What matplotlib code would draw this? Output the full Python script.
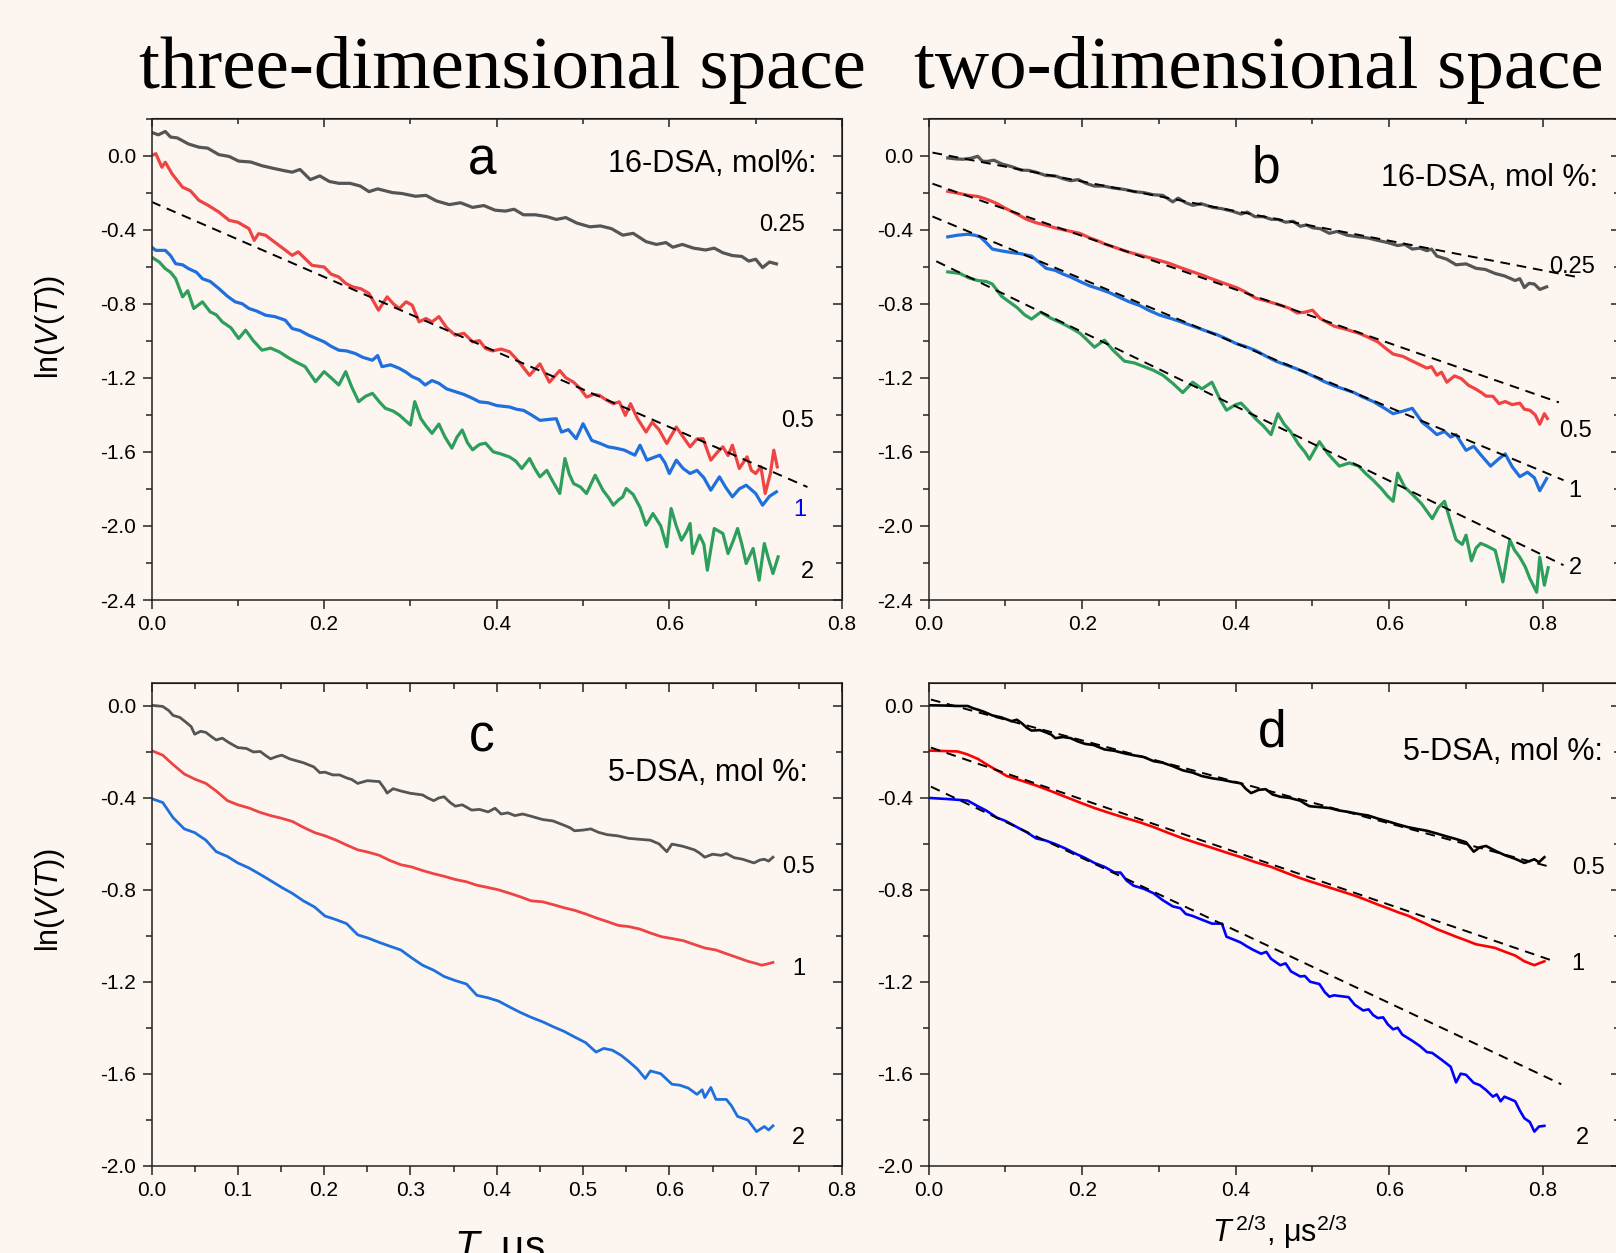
import matplotlib
matplotlib.use('Agg')
import matplotlib.pyplot as plt
from matplotlib.ticker import MultipleLocator
from matplotlib import font_manager

# fonts
names = set(f.name for f in font_manager.fontManager.ttflist)
narrow = 'Liberation Sans Narrow' if 'Liberation Sans Narrow' in names else 'Liberation Sans'
plt.rcParams['font.family'] = ['Liberation Sans', 'DejaVu Sans']
plt.rcParams['mathtext.fontset'] = 'custom'
plt.rcParams['mathtext.rm'] = 'Liberation Sans'
plt.rcParams['mathtext.it'] = 'Liberation Sans:italic'

BG = '#fdf6f0'

# ---------------- data ----------------
# panel a : 16-DSA, ln V(T) vs T
a_025_x = [0.000, 0.008, 0.016, 0.022, 0.030, 0.043, 0.055, 0.065, 0.078, 0.090, 0.101, 0.115, 0.128, 0.140,
           0.152, 0.163, 0.172, 0.184, 0.195, 0.206, 0.217, 0.230, 0.242, 0.252, 0.262, 0.279, 0.290, 0.306,
           0.318, 0.330, 0.345, 0.358, 0.372, 0.385, 0.398, 0.410, 0.420, 0.431, 0.445, 0.458, 0.469, 0.480,
           0.493, 0.508, 0.520, 0.533, 0.546, 0.558, 0.573, 0.585, 0.596, 0.604, 0.615, 0.628, 0.642, 0.652,
           0.662, 0.673, 0.684, 0.692, 0.700, 0.708, 0.716, 0.724]
a_025_y = [0.125, 0.112, 0.130, 0.100, 0.095, 0.062, 0.045, 0.040, 0.005, -0.005, -0.030, -0.035, -0.055, -0.068,
           -0.080, -0.090, -0.075, -0.130, -0.110, -0.140, -0.150, -0.150, -0.165, -0.195, -0.180, -0.200, -0.205, -0.220,
           -0.215, -0.245, -0.265, -0.255, -0.280, -0.270, -0.295, -0.300, -0.290, -0.320, -0.320, -0.330, -0.345, -0.335,
           -0.365, -0.385, -0.380, -0.395, -0.430, -0.420, -0.465, -0.480, -0.470, -0.495, -0.480, -0.500, -0.510, -0.500,
           -0.525, -0.540, -0.545, -0.570, -0.560, -0.605, -0.575, -0.585]

a_05_x = [0.000, 0.005, 0.012, 0.016, 0.024, 0.036, 0.045, 0.055, 0.066, 0.078, 0.090, 0.100, 0.113, 0.119, 0.124,
          0.132, 0.140, 0.152, 0.163, 0.170, 0.178, 0.186, 0.200, 0.208, 0.217, 0.225, 0.233, 0.243, 0.252, 0.263,
          0.273, 0.280, 0.287, 0.295, 0.302, 0.310, 0.318, 0.325, 0.333, 0.342, 0.352, 0.362, 0.372, 0.380, 0.387,
          0.395, 0.405, 0.415, 0.425, 0.438, 0.450, 0.461, 0.473, 0.480, 0.489, 0.497, 0.504, 0.512, 0.519, 0.527,
          0.535, 0.542, 0.549, 0.555, 0.563, 0.573, 0.580, 0.588, 0.597, 0.608, 0.616, 0.624, 0.632, 0.639, 0.648,
          0.656, 0.662, 0.668, 0.673, 0.681, 0.690, 0.695, 0.700, 0.706, 0.711, 0.717, 0.721, 0.725]
a_05_y = [0.000, 0.010, -0.063, -0.036, -0.100, -0.171, -0.190, -0.242, -0.270, -0.305, -0.350, -0.360, -0.395, -0.458, -0.422,
          -0.430, -0.458, -0.500, -0.539, -0.520, -0.557, -0.593, -0.602, -0.640, -0.656, -0.690, -0.709, -0.720, -0.745, -0.835,
          -0.763, -0.800, -0.826, -0.790, -0.808, -0.898, -0.880, -0.898, -0.870, -0.930, -0.970, -0.960, -1.006, -1.000, -1.042,
          -1.055, -1.045, -1.060, -1.110, -1.187, -1.125, -1.224, -1.161, -1.200, -1.224, -1.260, -1.304, -1.290, -1.295, -1.320,
          -1.340, -1.330, -1.403, -1.340, -1.420, -1.493, -1.440, -1.480, -1.555, -1.466, -1.520, -1.573, -1.530, -1.529, -1.645,
          -1.600, -1.573, -1.620, -1.564, -1.690, -1.627, -1.700, -1.717, -1.680, -1.825, -1.717, -1.591, -1.681]

a_1_x = [0.000, 0.005, 0.016, 0.022, 0.028, 0.036, 0.043, 0.052, 0.059, 0.068, 0.078, 0.088, 0.097, 0.105, 0.113,
         0.122, 0.132, 0.143, 0.155, 0.163, 0.172, 0.182, 0.192, 0.200, 0.208, 0.217, 0.226, 0.236, 0.245, 0.256,
         0.262, 0.267, 0.277, 0.287, 0.295, 0.302, 0.310, 0.317, 0.325, 0.333, 0.342, 0.352, 0.362, 0.372, 0.380,
         0.390, 0.400, 0.415, 0.423, 0.431, 0.440, 0.450, 0.460, 0.469, 0.475, 0.483, 0.492, 0.500, 0.510, 0.520,
         0.529, 0.538, 0.548, 0.560, 0.566, 0.574, 0.582, 0.589, 0.595, 0.600, 0.608, 0.616, 0.624, 0.632, 0.640,
         0.648, 0.658, 0.665, 0.673, 0.681, 0.689, 0.700, 0.708, 0.716, 0.724]
a_1_y = [-0.494, -0.512, -0.512, -0.540, -0.584, -0.590, -0.611, -0.630, -0.665, -0.680, -0.718, -0.760, -0.790, -0.800, -0.826,
         -0.840, -0.862, -0.870, -0.889, -0.934, -0.945, -0.970, -0.990, -1.006, -1.030, -1.051, -1.055, -1.069, -1.090, -1.105,
         -1.080, -1.140, -1.130, -1.149, -1.170, -1.194, -1.210, -1.239, -1.215, -1.230, -1.260, -1.275, -1.290, -1.311, -1.330,
         -1.335, -1.350, -1.358, -1.370, -1.376, -1.400, -1.430, -1.425, -1.421, -1.493, -1.480, -1.529, -1.448, -1.538, -1.555,
         -1.573, -1.580, -1.591, -1.618, -1.564, -1.645, -1.630, -1.618, -1.660, -1.717, -1.645, -1.690, -1.717, -1.700, -1.740,
         -1.807, -1.735, -1.790, -1.843, -1.800, -1.780, -1.825, -1.888, -1.840, -1.816]

a_2_x = [0.000, 0.009, 0.016, 0.022, 0.028, 0.036, 0.042, 0.049, 0.059, 0.068, 0.075, 0.082, 0.092, 0.101, 0.109,
         0.118, 0.128, 0.138, 0.148, 0.158, 0.167, 0.178, 0.190, 0.200, 0.208, 0.217, 0.225, 0.232, 0.240, 0.248,
         0.256, 0.264, 0.271, 0.280, 0.287, 0.294, 0.300, 0.305, 0.312, 0.318, 0.325, 0.333, 0.340, 0.348, 0.354,
         0.360, 0.366, 0.372, 0.380, 0.387, 0.396, 0.404, 0.415, 0.422, 0.429, 0.438, 0.444, 0.450, 0.458, 0.465,
         0.473, 0.479, 0.484, 0.489, 0.497, 0.504, 0.514, 0.523, 0.530, 0.535, 0.541, 0.546, 0.550, 0.558, 0.566,
         0.573, 0.581, 0.590, 0.597, 0.602, 0.608, 0.614, 0.620, 0.624, 0.627, 0.635, 0.640, 0.644, 0.652, 0.662,
         0.668, 0.674, 0.679, 0.684, 0.689, 0.697, 0.704, 0.710, 0.715, 0.720, 0.726]
a_2_y = [-0.548, -0.575, -0.611, -0.630, -0.665, -0.763, -0.730, -0.826, -0.790, -0.844, -0.860, -0.898, -0.930, -0.988, -0.943,
         -1.000, -1.051, -1.040, -1.060, -1.090, -1.114, -1.140, -1.221, -1.167, -1.200, -1.239, -1.167, -1.250, -1.329, -1.300,
         -1.284, -1.330, -1.365, -1.380, -1.401, -1.430, -1.455, -1.329, -1.420, -1.460, -1.500, -1.450, -1.520, -1.580, -1.520,
         -1.482, -1.550, -1.589, -1.560, -1.553, -1.600, -1.610, -1.628, -1.650, -1.690, -1.636, -1.690, -1.735, -1.700, -1.760,
         -1.825, -1.636, -1.720, -1.771, -1.790, -1.825, -1.726, -1.807, -1.850, -1.888, -1.860, -1.843, -1.798, -1.830, -1.900,
         -1.996, -1.933, -2.000, -2.113, -1.906, -2.000, -2.077, -2.030, -1.987, -2.149, -2.050, -2.100, -2.239, -2.014, -2.041,
         -2.149, -2.080, -2.014, -2.100, -2.203, -2.122, -2.293, -2.095, -2.180, -2.257, -2.167]

a_fit_x = [0.0, 0.76]
a_fit_y = [-0.25, -1.79]

# panel b : 16-DSA, ln V(T) vs T^(2/3)
b_025_x = [0.025, 0.035, 0.045, 0.055, 0.064, 0.070, 0.076, 0.085, 0.095, 0.108, 0.121, 0.130, 0.140, 0.153, 0.165,
           0.175, 0.185, 0.195, 0.205, 0.216, 0.228, 0.240, 0.255, 0.268, 0.280, 0.293, 0.305, 0.318, 0.325, 0.335,
           0.344, 0.355, 0.370, 0.382, 0.395, 0.407, 0.415, 0.425, 0.436, 0.446, 0.455, 0.465, 0.475, 0.484, 0.492,
           0.500, 0.510, 0.522, 0.532, 0.545, 0.560, 0.572, 0.585, 0.598, 0.611, 0.620, 0.630, 0.640, 0.649, 0.655,
           0.662, 0.675, 0.687, 0.700, 0.713, 0.725, 0.738, 0.750, 0.764, 0.770, 0.776, 0.782, 0.789, 0.796, 0.805]
b_025_y = [-0.013, -0.018, -0.020, -0.015, -0.004, -0.030, -0.032, -0.025, -0.045, -0.060, -0.079, -0.080, -0.090, -0.108, -0.110,
           -0.125, -0.136, -0.130, -0.150, -0.165, -0.165, -0.175, -0.183, -0.195, -0.200, -0.212, -0.215, -0.250, -0.230, -0.255,
           -0.269, -0.260, -0.280, -0.287, -0.300, -0.316, -0.305, -0.330, -0.330, -0.344, -0.345, -0.360, -0.355, -0.382, -0.375,
           -0.390, -0.395, -0.420, -0.410, -0.430, -0.439, -0.445, -0.458, -0.470, -0.486, -0.480, -0.505, -0.500, -0.514, -0.505,
           -0.543, -0.560, -0.590, -0.585, -0.609, -0.615, -0.637, -0.650, -0.675, -0.665, -0.713, -0.690, -0.694, -0.723, -0.709]

b_05_x = [0.025, 0.040, 0.052, 0.064, 0.075, 0.089, 0.100, 0.115, 0.128, 0.140, 0.152, 0.165, 0.180, 0.197, 0.210,
          0.220, 0.229, 0.242, 0.255, 0.268, 0.280, 0.295, 0.312, 0.328, 0.344, 0.356, 0.369, 0.385, 0.401, 0.412,
          0.426, 0.440, 0.458, 0.470, 0.480, 0.490, 0.500, 0.510, 0.528, 0.545, 0.560, 0.572, 0.585, 0.595, 0.605,
          0.618, 0.630, 0.640, 0.649, 0.655, 0.662, 0.668, 0.675, 0.685, 0.694, 0.703, 0.713, 0.720, 0.726, 0.735,
          0.743, 0.751, 0.760, 0.770, 0.776, 0.783, 0.790, 0.796, 0.802, 0.806]
b_05_y = [-0.193, -0.205, -0.215, -0.221, -0.235, -0.259, -0.285, -0.316, -0.345, -0.363, -0.375, -0.391, -0.405, -0.420, -0.445,
          -0.460, -0.477, -0.495, -0.514, -0.530, -0.543, -0.560, -0.580, -0.605, -0.628, -0.645, -0.666, -0.690, -0.713, -0.735,
          -0.770, -0.785, -0.808, -0.825, -0.850, -0.846, -0.835, -0.880, -0.921, -0.940, -0.959, -0.980, -1.006, -1.040, -1.072,
          -1.085, -1.110, -1.130, -1.148, -1.140, -1.186, -1.170, -1.224, -1.190, -1.205, -1.240, -1.262, -1.280, -1.299, -1.300,
          -1.340, -1.328, -1.345, -1.337, -1.370, -1.375, -1.400, -1.451, -1.394, -1.420]

b_1_x = [0.025, 0.038, 0.051, 0.060, 0.067, 0.075, 0.083, 0.095, 0.108, 0.120, 0.134, 0.145, 0.153, 0.165, 0.175,
         0.185, 0.197, 0.210, 0.222, 0.236, 0.248, 0.261, 0.275, 0.287, 0.300, 0.318, 0.330, 0.344, 0.360, 0.376,
         0.388, 0.401, 0.412, 0.426, 0.438, 0.452, 0.465, 0.477, 0.490, 0.503, 0.515, 0.528, 0.540, 0.554, 0.566,
         0.579, 0.592, 0.605, 0.618, 0.630, 0.643, 0.652, 0.662, 0.672, 0.680, 0.687, 0.700, 0.710, 0.720, 0.732,
         0.742, 0.751, 0.760, 0.770, 0.780, 0.789, 0.796, 0.805]
b_1_y = [-0.439, -0.430, -0.425, -0.430, -0.439, -0.470, -0.505, -0.515, -0.524, -0.530, -0.543, -0.580, -0.609, -0.620, -0.640,
         -0.656, -0.680, -0.704, -0.720, -0.741, -0.765, -0.789, -0.810, -0.836, -0.860, -0.883, -0.900, -0.921, -0.945, -0.968,
         -0.990, -1.016, -1.030, -1.053, -1.080, -1.110, -1.130, -1.148, -1.170, -1.195, -1.220, -1.243, -1.260, -1.280, -1.305,
         -1.328, -1.360, -1.394, -1.380, -1.365, -1.441, -1.470, -1.507, -1.490, -1.520, -1.507, -1.592, -1.570, -1.620, -1.677,
         -1.640, -1.611, -1.680, -1.734, -1.710, -1.740, -1.810, -1.744]

b_2_x = [0.025, 0.041, 0.052, 0.064, 0.075, 0.083, 0.095, 0.105, 0.115, 0.125, 0.134, 0.146, 0.160, 0.172, 0.185,
         0.197, 0.205, 0.216, 0.229, 0.240, 0.255, 0.268, 0.280, 0.293, 0.305, 0.318, 0.331, 0.344, 0.356, 0.369,
         0.380, 0.388, 0.400, 0.407, 0.417, 0.426, 0.436, 0.446, 0.455, 0.463, 0.471, 0.482, 0.490, 0.496, 0.509,
         0.520, 0.535, 0.548, 0.560, 0.570, 0.579, 0.590, 0.598, 0.605, 0.611, 0.620, 0.630, 0.642, 0.656, 0.664,
         0.672, 0.680, 0.687, 0.695, 0.700, 0.707, 0.713, 0.719, 0.728, 0.738, 0.748, 0.757, 0.763, 0.770, 0.777,
         0.783, 0.792, 0.796, 0.802, 0.807]
b_2_y = [-0.628, -0.637, -0.660, -0.675, -0.680, -0.694, -0.760, -0.790, -0.820, -0.860, -0.883, -0.846, -0.880, -0.902, -0.930,
         -0.959, -0.990, -1.035, -0.997, -1.050, -1.110, -1.120, -1.139, -1.160, -1.186, -1.230, -1.280, -1.224, -1.260, -1.224,
         -1.320, -1.375, -1.345, -1.337, -1.380, -1.422, -1.460, -1.507, -1.394, -1.450, -1.488, -1.560, -1.600, -1.640, -1.545,
         -1.610, -1.677, -1.660, -1.677, -1.720, -1.753, -1.800, -1.840, -1.867, -1.715, -1.790, -1.829, -1.880, -1.961, -1.900,
         -1.867, -1.980, -2.075, -2.100, -2.050, -2.188, -2.120, -2.094, -2.110, -2.132, -2.302, -2.075, -2.130, -2.169, -2.220,
         -2.283, -2.358, -2.169, -2.320, -2.226]

b_fit_x = [[0.005, 0.846], [0.005, 0.821], [0.005, 0.827], [0.010, 0.827]]
b_fit_y = [[0.016, -0.657], [-0.152, -1.333], [-0.329, -1.753], [-0.571, -2.212]]

# panel c : 5-DSA, ln V(T) vs T
c_05_x = [0.000, 0.013, 0.020, 0.025, 0.033, 0.041, 0.046, 0.050, 0.057, 0.063, 0.070, 0.075, 0.082, 0.090, 0.100,
          0.110, 0.118, 0.126, 0.132, 0.138, 0.145, 0.151, 0.160, 0.176, 0.188, 0.195, 0.201, 0.210, 0.218, 0.226,
          0.232, 0.239, 0.250, 0.264, 0.270, 0.273, 0.280, 0.289, 0.300, 0.314, 0.320, 0.327, 0.333, 0.339, 0.346,
          0.352, 0.360, 0.371, 0.380, 0.390, 0.398, 0.405, 0.413, 0.421, 0.430, 0.440, 0.453, 0.465, 0.478, 0.485,
          0.490, 0.500, 0.509, 0.518, 0.528, 0.540, 0.553, 0.565, 0.578, 0.588, 0.597, 0.603, 0.615, 0.629, 0.635,
          0.641, 0.650, 0.660, 0.666, 0.675, 0.685, 0.698, 0.705, 0.710, 0.715, 0.720]
c_05_y = [0.003, -0.002, -0.020, -0.041, -0.050, -0.074, -0.090, -0.123, -0.110, -0.115, -0.135, -0.148, -0.140, -0.160, -0.181,
          -0.185, -0.200, -0.198, -0.215, -0.230, -0.220, -0.214, -0.230, -0.247, -0.265, -0.290, -0.288, -0.300, -0.300, -0.313,
          -0.320, -0.337, -0.325, -0.329, -0.360, -0.379, -0.360, -0.370, -0.380, -0.387, -0.400, -0.412, -0.400, -0.395, -0.420,
          -0.436, -0.430, -0.453, -0.450, -0.461, -0.445, -0.470, -0.465, -0.477, -0.470, -0.480, -0.494, -0.500, -0.519, -0.530,
          -0.543, -0.540, -0.535, -0.550, -0.560, -0.565, -0.576, -0.580, -0.584, -0.600, -0.634, -0.601, -0.610, -0.626, -0.640,
          -0.658, -0.645, -0.650, -0.642, -0.660, -0.667, -0.683, -0.670, -0.667, -0.675, -0.658]

c_1_x = [0.000, 0.013, 0.025, 0.038, 0.050, 0.063, 0.075, 0.088, 0.100, 0.113, 0.125, 0.138, 0.150, 0.163, 0.176,
         0.189, 0.201, 0.214, 0.226, 0.239, 0.251, 0.264, 0.276, 0.289, 0.301, 0.314, 0.327, 0.339, 0.352, 0.365,
         0.377, 0.390, 0.402, 0.415, 0.427, 0.440, 0.453, 0.465, 0.478, 0.490, 0.503, 0.515, 0.528, 0.541, 0.553,
         0.566, 0.578, 0.591, 0.603, 0.616, 0.629, 0.641, 0.654, 0.666, 0.679, 0.691, 0.700, 0.707, 0.714, 0.720]
c_1_y = [-0.194, -0.214, -0.255, -0.296, -0.318, -0.337, -0.370, -0.412, -0.430, -0.444, -0.462, -0.477, -0.488, -0.502, -0.528,
         -0.551, -0.565, -0.584, -0.605, -0.626, -0.636, -0.650, -0.672, -0.691, -0.700, -0.716, -0.730, -0.741, -0.755, -0.765,
         -0.780, -0.790, -0.800, -0.815, -0.830, -0.848, -0.852, -0.864, -0.878, -0.889, -0.905, -0.922, -0.938, -0.955, -0.960,
         -0.971, -0.988, -1.004, -1.012, -1.021, -1.038, -1.053, -1.062, -1.078, -1.095, -1.111, -1.120, -1.128, -1.122, -1.116]

c_2_x = [0.000, 0.013, 0.025, 0.038, 0.050, 0.063, 0.075, 0.088, 0.100, 0.113, 0.126, 0.138, 0.151, 0.163, 0.176,
         0.189, 0.201, 0.214, 0.226, 0.239, 0.251, 0.264, 0.276, 0.289, 0.301, 0.314, 0.327, 0.339, 0.352, 0.365,
         0.377, 0.390, 0.402, 0.415, 0.427, 0.440, 0.453, 0.465, 0.478, 0.490, 0.503, 0.515, 0.524, 0.534, 0.544,
         0.553, 0.563, 0.572, 0.578, 0.590, 0.603, 0.612, 0.622, 0.632, 0.638, 0.641, 0.648, 0.654, 0.666, 0.672,
         0.679, 0.691, 0.701, 0.710, 0.715, 0.720]
c_2_y = [-0.403, -0.420, -0.486, -0.535, -0.551, -0.584, -0.634, -0.655, -0.683, -0.705, -0.733, -0.760, -0.790, -0.815, -0.848,
         -0.875, -0.914, -0.930, -0.947, -0.996, -1.010, -1.029, -1.045, -1.062, -1.095, -1.128, -1.150, -1.177, -1.195, -1.210,
         -1.259, -1.270, -1.284, -1.310, -1.333, -1.355, -1.374, -1.395, -1.416, -1.440, -1.465, -1.506, -1.490, -1.498, -1.520,
         -1.547, -1.580, -1.621, -1.588, -1.600, -1.646, -1.650, -1.663, -1.690, -1.670, -1.704, -1.660, -1.712, -1.712, -1.740,
         -1.786, -1.802, -1.852, -1.830, -1.845, -1.827]

# panel d : 5-DSA, ln V(T) vs T^(2/3)
d_05_x = [0.000, 0.020, 0.038, 0.051, 0.058, 0.064, 0.072, 0.083, 0.095, 0.108, 0.115, 0.121, 0.128, 0.134, 0.145,
          0.153, 0.160, 0.165, 0.175, 0.185, 0.195, 0.204, 0.215, 0.229, 0.242, 0.255, 0.268, 0.280, 0.293, 0.305,
          0.318, 0.331, 0.344, 0.356, 0.370, 0.382, 0.395, 0.407, 0.413, 0.420, 0.430, 0.439, 0.448, 0.458, 0.470,
          0.484, 0.490, 0.496, 0.509, 0.522, 0.535, 0.547, 0.560, 0.573, 0.585, 0.598, 0.611, 0.624, 0.636, 0.649,
          0.662, 0.675, 0.688, 0.700, 0.710, 0.718, 0.726, 0.738, 0.751, 0.764, 0.776, 0.789, 0.795, 0.802]
d_05_y = [0.003, 0.002, 0.000, 0.000, -0.010, -0.016, -0.025, -0.041, -0.050, -0.066, -0.060, -0.074, -0.095, -0.107, -0.105,
          -0.115, -0.125, -0.140, -0.135, -0.140, -0.155, -0.165, -0.170, -0.189, -0.195, -0.206, -0.215, -0.222, -0.240, -0.247,
          -0.262, -0.280, -0.290, -0.305, -0.315, -0.321, -0.330, -0.337, -0.360, -0.379, -0.365, -0.362, -0.385, -0.395, -0.400,
          -0.412, -0.425, -0.436, -0.440, -0.444, -0.455, -0.461, -0.470, -0.477, -0.490, -0.502, -0.515, -0.527, -0.535, -0.543,
          -0.555, -0.568, -0.580, -0.593, -0.634, -0.615, -0.609, -0.630, -0.650, -0.665, -0.683, -0.667, -0.680, -0.658]

d_1_x = [0.000, 0.020, 0.038, 0.050, 0.064, 0.076, 0.089, 0.102, 0.121, 0.140, 0.159, 0.178, 0.197, 0.216, 0.235,
         0.255, 0.274, 0.293, 0.312, 0.331, 0.350, 0.369, 0.388, 0.407, 0.426, 0.446, 0.465, 0.484, 0.503, 0.522,
         0.541, 0.560, 0.573, 0.585, 0.598, 0.611, 0.624, 0.636, 0.649, 0.662, 0.675, 0.687, 0.700, 0.713, 0.726,
         0.738, 0.751, 0.764, 0.776, 0.789, 0.795, 0.802]
d_1_y = [-0.194, -0.196, -0.198, -0.210, -0.230, -0.255, -0.280, -0.305, -0.325, -0.346, -0.370, -0.395, -0.420, -0.444, -0.465,
         -0.486, -0.505, -0.527, -0.552, -0.576, -0.597, -0.617, -0.638, -0.658, -0.680, -0.700, -0.725, -0.749, -0.770, -0.790,
         -0.810, -0.831, -0.848, -0.864, -0.880, -0.897, -0.912, -0.930, -0.950, -0.971, -0.988, -1.004, -1.020, -1.037, -1.045,
         -1.053, -1.070, -1.086, -1.111, -1.128, -1.120, -1.111]

d_2_x = [0.000, 0.025, 0.045, 0.051, 0.064, 0.075, 0.089, 0.100, 0.115, 0.128, 0.140, 0.152, 0.165, 0.178, 0.191,
         0.203, 0.216, 0.229, 0.242, 0.250, 0.258, 0.267, 0.280, 0.293, 0.305, 0.318, 0.328, 0.335, 0.344, 0.356,
         0.369, 0.382, 0.388, 0.400, 0.407, 0.414, 0.422, 0.433, 0.440, 0.446, 0.458, 0.465, 0.472, 0.484, 0.490,
         0.497, 0.509, 0.516, 0.522, 0.528, 0.535, 0.547, 0.555, 0.566, 0.573, 0.579, 0.585, 0.592, 0.598, 0.605,
         0.611, 0.617, 0.630, 0.640, 0.649, 0.656, 0.668, 0.680, 0.687, 0.693, 0.700, 0.710, 0.718, 0.726, 0.735,
         0.740, 0.745, 0.750, 0.757, 0.764, 0.770, 0.776, 0.783, 0.789, 0.795, 0.802]
d_2_y = [-0.400, -0.405, -0.410, -0.412, -0.436, -0.455, -0.486, -0.500, -0.527, -0.550, -0.576, -0.585, -0.601, -0.620, -0.642,
         -0.660, -0.683, -0.700, -0.724, -0.725, -0.760, -0.782, -0.795, -0.815, -0.845, -0.872, -0.880, -0.905, -0.914, -0.930,
         -0.947, -0.947, -1.004, -1.020, -1.030, -1.045, -1.060, -1.078, -1.070, -1.100, -1.128, -1.120, -1.155, -1.177, -1.175,
         -1.200, -1.210, -1.245, -1.265, -1.259, -1.262, -1.267, -1.300, -1.325, -1.320, -1.345, -1.358, -1.355, -1.385, -1.407,
         -1.400, -1.430, -1.457, -1.480, -1.506, -1.510, -1.539, -1.570, -1.638, -1.600, -1.605, -1.640, -1.650, -1.671, -1.700,
         -1.690, -1.720, -1.700, -1.710, -1.720, -1.760, -1.794, -1.810, -1.852, -1.830, -1.827]

d_fit_x = [[0.003, 0.805], [0.003, 0.815], [0.003, 0.824]]
d_fit_y = [[0.028, -0.696], [-0.181, -1.111], [-0.351, -1.646]]

# ---------------- figure ----------------
W, H = 1616, 1253
fig = plt.figure(figsize=(W / 100, H / 100), dpi=100, facecolor=BG)


def px_axes(left, top, right, bottom):
    return fig.add_axes([left / W, 1 - bottom / H, (right - left) / W, (bottom - top) / H])


def style(ax, xlim, ylim, xmaj, xmin):
    ax.set_facecolor(BG)
    ax.set_xlim(*xlim)
    ax.set_ylim(*ylim)
    ax.xaxis.set_major_locator(MultipleLocator(xmaj))
    ax.xaxis.set_minor_locator(MultipleLocator(xmin))
    ax.yaxis.set_major_locator(MultipleLocator(0.4))
    ax.yaxis.set_minor_locator(MultipleLocator(0.2))
    ax.tick_params(which='both', direction='out', width=1.1, color='#222222')
    ax.tick_params(which='major', length=6.5, labelsize=15, pad=4.5)
    ax.tick_params(which='minor', length=4)
    ax.xaxis.set_major_formatter(lambda v, p: f'{v:.1f}')
    ax.yaxis.set_major_formatter(lambda v, p: f'{v:.1f}')
    for s in ax.spines.values():
        s.set_linewidth(1.1)
        s.set_color('#222222')
    # mirrored ticks pointing inwards on top / right
    top = ax.secondary_xaxis('top')
    top.xaxis.set_major_locator(MultipleLocator(xmaj))
    top.xaxis.set_minor_locator(MultipleLocator(xmin))
    top.tick_params(which='both', direction='in', labeltop=False, width=1.1, color='#222222')
    top.tick_params(which='major', length=6.5)
    top.tick_params(which='minor', length=4)
    right = ax.secondary_yaxis('right')
    right.yaxis.set_major_locator(MultipleLocator(0.4))
    right.yaxis.set_minor_locator(MultipleLocator(0.2))
    right.tick_params(which='both', direction='in', labelright=False, width=1.1, color='#222222')
    right.tick_params(which='major', length=6.5)
    right.tick_params(which='minor', length=4)


GRAY, RED, BLUE, GREEN = '#555555', '#ee4444', '#1f6fdc', '#2e9e5c'
dash = dict(color='black', lw=1.4, dashes=(5, 3.5))

# panel a
ax = px_axes(151.5, 118.5, 842, 600)
style(ax, (0, 0.8), (-2.4, 0.2), 0.2, 0.1)
ax.plot(a_025_x, a_025_y, color=GRAY, lw=2.3)
ax.plot(a_05_x, a_05_y, color=RED, lw=2.3)
ax.plot(a_1_x, a_1_y, color=BLUE, lw=2.3)
ax.plot(a_2_x, a_2_y, color=GREEN, lw=2.3)
ax.plot(a_fit_x, a_fit_y, **dash)
ax.text(0.383, -0.03, 'a', fontsize=37, ha='center', va='center')
ax.text(0.771, -0.047, '16-DSA, mol%:', fontsize=22, ha='right', va='center')
ax.text(0.731, -0.376, '0.25', fontsize=17, ha='center', va='center')
ax.text(0.749, -1.434, '0.5', fontsize=17, ha='center', va='center')
ax.text(0.751, -1.915, '1', fontsize=17, ha='center', va='center', color='#0000ff')
ax.text(0.760, -2.247, '2', fontsize=17, ha='center', va='center')

# panel b
ax = px_axes(928.6, 118.5, 1619.6, 600)
style(ax, (0, 0.9), (-2.4, 0.2), 0.2, 0.1)
ax.plot(b_025_x, b_025_y, color=GRAY, lw=2.3)
ax.plot(b_05_x, b_05_y, color=RED, lw=2.3)
ax.plot(b_1_x, b_1_y, color=BLUE, lw=2.3)
ax.plot(b_2_x, b_2_y, color=GREEN, lw=2.3)
for fx, fy in zip(b_fit_x, b_fit_y):
    ax.plot(fx, fy, **dash)
ax.text(0.439, -0.07, 'b', fontsize=37, ha='center', va='center')
ax.text(0.872, -0.122, '16-DSA, mol %:', fontsize=22, ha='right', va='center')
ax.text(0.838, -0.60, '0.25', fontsize=17, ha='center', va='center')
ax.text(0.842, -1.488, '0.5', fontsize=17, ha='center', va='center')
ax.text(0.842, -1.81, '1', fontsize=17, ha='center', va='center')
ax.text(0.842, -2.227, '2', fontsize=17, ha='center', va='center')

# panel c
ax = px_axes(151.5, 683, 842, 1165.6)
style(ax, (0, 0.8), (-2.0, 0.1), 0.1, 0.05)
ax.plot(c_05_x, c_05_y, color=GRAY, lw=2.0)
ax.plot(c_1_x, c_1_y, color=RED, lw=2.0)
ax.plot(c_2_x, c_2_y, color=BLUE, lw=2.0)
ax.text(0.383, -0.14, 'c', fontsize=37, ha='center', va='center')
ax.text(0.761, -0.292, '5-DSA, mol %:', fontsize=22, ha='right', va='center')
ax.text(0.750, -0.701, '0.5', fontsize=17, ha='center', va='center')
ax.text(0.750, -1.146, '1', fontsize=17, ha='center', va='center')
ax.text(0.750, -1.879, '2', fontsize=17, ha='center', va='center')

# panel d
ax = px_axes(928.6, 683, 1619.6, 1165.6)
style(ax, (0, 0.9), (-2.0, 0.1), 0.2, 0.1)
ax.plot(d_05_x, d_05_y, color='black', lw=1.9)
ax.plot(d_1_x, d_1_y, color='#ff0000', lw=1.9)
ax.plot(d_2_x, d_2_y, color='#0000ff', lw=1.9)
for fx, fy in zip(d_fit_x, d_fit_y):
    ax.plot(fx, fy, **dash)
ax.text(0.447, -0.117, 'd', fontsize=37, ha='center', va='center')
ax.text(0.878, -0.202, '5-DSA, mol %:', fontsize=22, ha='right', va='center')
ax.text(0.859, -0.706, '0.5', fontsize=17, ha='center', va='center')
ax.text(0.846, -1.123, '1', fontsize=17, ha='center', va='center')
ax.text(0.852, -1.879, '2', fontsize=17, ha='center', va='center')

# titles and axis labels
fig.text(502 / W, 1 - 88 / H, 'three-dimensional space', fontsize=54, family='Liberation Serif',
         ha='center', va='baseline')
fig.text(1259 / W, 1 - 88 / H, 'two-dimensional space', fontsize=54, family='Liberation Serif',
         ha='center', va='baseline')
fig.text(50 / W, 1 - 327 / H, 'ln($V$($T$))', fontsize=22, rotation=90, ha='center', va='center')
fig.text(50 / W, 1 - 900 / H, 'ln($V$($T$))', fontsize=22, rotation=90, ha='center', va='center')
fig.text(499 / W, 1 - 1258 / H, r'$T$, μs', fontsize=29, family=narrow, ha='center', va='baseline')
fig.text(1212 / W, 1 - 1242 / H, r'$T^{\,2/3}$, μs$^{2/3}$', fontsize=22, family=narrow,
         ha='left', va='baseline')

fig.savefig('out.png', dpi=100, facecolor=BG)
